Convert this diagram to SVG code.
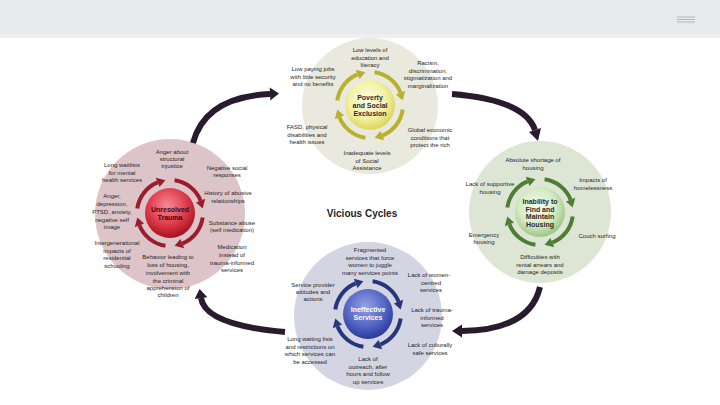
<svg xmlns="http://www.w3.org/2000/svg" xmlns:xlink="http://www.w3.org/1999/xlink" width="720" height="405" viewBox="0 0 720 405">
<style>
text{font-family:"Liberation Sans",Arial,sans-serif;font-size:6px;fill:#262626;text-anchor:middle}
.c{font-size:7px;font-weight:bold;fill:#2a2a2a}
.w{fill:#ffffff}
.big{stroke:#2a1a2e;stroke-width:6;fill:none;stroke-linecap:butt}
.head{fill:#2a1a2e}
</style>
<defs>
<g id="ring">
<path d="M4.59,-32.68 A33,33 0 0 1 30.60,-12.36" fill="none" stroke="currentColor" stroke-width="4"/>
<polygon points="25.96,-10.49 35.23,-14.23 32.68,-4.59" fill="currentColor"/>
<path d="M32.68,4.59 A33,33 0 0 1 12.36,30.60" fill="none" stroke="currentColor" stroke-width="4"/>
<polygon points="10.49,25.96 14.23,35.23 4.59,32.68" fill="currentColor"/>
<path d="M-4.59,32.68 A33,33 0 0 1 -30.60,12.36" fill="none" stroke="currentColor" stroke-width="4"/>
<polygon points="-25.96,10.49 -35.23,14.23 -32.68,4.59" fill="currentColor"/>
<path d="M-32.68,-4.59 A33,33 0 0 1 -12.36,-30.60" fill="none" stroke="currentColor" stroke-width="4"/>
<polygon points="-10.49,-25.96 -14.23,-35.23 -4.59,-32.68" fill="currentColor"/>
</g>
<radialGradient id="gY" cx="0.45" cy="0.4" r="0.6"><stop offset="0" stop-color="#fefee8"/><stop offset="0.6" stop-color="#f4f2a8"/><stop offset="1" stop-color="#dcd55a"/></radialGradient>
<radialGradient id="gG" cx="0.45" cy="0.4" r="0.6"><stop offset="0" stop-color="#f6fbef"/><stop offset="0.6" stop-color="#d6ebc6"/><stop offset="1" stop-color="#9cc784"/></radialGradient>
<radialGradient id="gB" cx="0.45" cy="0.35" r="0.65"><stop offset="0" stop-color="#95a2e6"/><stop offset="0.6" stop-color="#5566c4"/><stop offset="1" stop-color="#2c3a98"/></radialGradient>
<radialGradient id="gR" cx="0.45" cy="0.35" r="0.65"><stop offset="0" stop-color="#f58a94"/><stop offset="0.6" stop-color="#dd3a4a"/><stop offset="1" stop-color="#a8101e"/></radialGradient>
</defs>

<g id="header">
<rect x="0" y="0" width="720" height="34" fill="#e7e9ea"/>
<rect x="0" y="34" width="720" height="4" fill="#eeeff0"/>
<g stroke="#b4b8ba" stroke-width="1">
<line x1="677" y1="17" x2="695" y2="17"/>
<line x1="677" y1="19.5" x2="695" y2="19.5"/>
<line x1="677" y1="22" x2="695" y2="22"/>
</g>
</g>

<g id="cycle-poverty">
<circle cx="370" cy="106" r="68" fill="#e9e9de"/>
<use xlink:href="#ring" transform="translate(370,105)" color="#b7b12c"/>
<circle cx="370" cy="105" r="25" fill="url(#gY)"/>
<text class="c" x="370" y="99.5">Poverty</text>
<text class="c" x="370" y="107.5">and Social</text>
<text class="c" x="370" y="115.5">Exclusion</text>
<text x="370" y="52">Low levels of</text>
<text x="370" y="59.5">education and</text>
<text x="370" y="67">literacy</text>
<text x="313" y="71">Low paying jobs</text>
<text x="313" y="78.5">with little security</text>
<text x="313" y="86">and no benefits</text>
<text x="428" y="65">Racism,</text>
<text x="428" y="72.5">discrimination,</text>
<text x="428" y="80">stigmatization and</text>
<text x="428" y="87.5">marginalization</text>
<text x="307" y="129">FASD, physical</text>
<text x="307" y="136.5">disabilities and</text>
<text x="307" y="144">health issues</text>
<text x="430" y="132">Global economic</text>
<text x="430" y="139.5">conditions that</text>
<text x="430" y="147">protect the rich</text>
<text x="367" y="155">Inadequate levels</text>
<text x="367" y="162.5">of Social</text>
<text x="367" y="170">Assistance</text>
</g>

<g id="cycle-housing">
<circle cx="540" cy="212" r="71" fill="#dde6d5"/>
<use xlink:href="#ring" transform="translate(540,212)" color="#4e7e34"/>
<circle cx="540" cy="212" r="25" fill="url(#gG)"/>
<text class="c" x="540" y="203.5">Inability to</text>
<text class="c" x="540" y="211.5">Find and</text>
<text class="c" x="540" y="219">Maintain</text>
<text class="c" x="540" y="226.5">Housing</text>
<text x="533" y="162">Absolute shortage of</text>
<text x="533" y="169.5">housing</text>
<text x="593" y="182">Impacts of</text>
<text x="593" y="190">homelessness</text>
<text x="490" y="186">Lack of supportive</text>
<text x="490" y="194">housing</text>
<text x="484" y="236.5">Emergency</text>
<text x="484" y="244">housing</text>
<text x="597" y="237.5">Couch surfing</text>
<text x="540" y="259">Difficulties with</text>
<text x="540" y="266.5">rental arrears and</text>
<text x="540" y="274">damage deposits</text>
</g>

<g id="cycle-services">
<circle cx="368" cy="316" r="74" fill="#d4d5e3"/>
<use xlink:href="#ring" transform="translate(368,314)" color="#26367a"/>
<circle cx="368" cy="314" r="25" fill="url(#gB)"/>
<text class="c w" x="368" y="312">Ineffective</text>
<text class="c w" x="368" y="320">Services</text>
<text x="370" y="252">Fragmented</text>
<text x="370" y="259.5">services that force</text>
<text x="370" y="267">women to juggle</text>
<text x="370" y="274.5">many services points</text>
<text x="313" y="287">Service provider</text>
<text x="313" y="294">attitudes and</text>
<text x="313" y="301">actions</text>
<text x="429" y="277">Lack of women-</text>
<text x="431" y="284.5">centred</text>
<text x="431" y="292">services</text>
<text x="432" y="312">Lack of trauma-</text>
<text x="432" y="319.5">informed</text>
<text x="432" y="327">services</text>
<text x="430" y="347">Lack of culturally</text>
<text x="430" y="354.5">safe services</text>
<text x="310" y="341">Long waiting lists</text>
<text x="310" y="348.5">and restrictions on</text>
<text x="310" y="356">which services can</text>
<text x="310" y="363.5">be accessed</text>
<text x="368" y="361">Lack of</text>
<text x="368" y="368.5">outreach, after</text>
<text x="368" y="376">hours and follow</text>
<text x="368" y="383.5">up services</text>
</g>

<g id="cycle-trauma">
<circle cx="170" cy="214" r="75" fill="#dcc4c8"/>
<use xlink:href="#ring" transform="translate(170,213)" color="#9b1c2c"/>
<circle cx="170" cy="213" r="25" fill="url(#gR)"/>
<text class="c" x="170" y="211.5" fill="#3a0a10" style="fill:#3a0a10">Unresolved</text>
<text class="c" x="170" y="219.5" style="fill:#3a0a10">Trauma</text>
<text x="172" y="154">Anger about</text>
<text x="172" y="161">structural</text>
<text x="172" y="168">injustice</text>
<text x="122" y="167">Long waitlists</text>
<text x="122" y="174.5">for mental</text>
<text x="122" y="182">health services</text>
<text x="227" y="170">Negative social</text>
<text x="227" y="177">responses</text>
<text x="228" y="195">History of abusive</text>
<text x="228" y="203">relationships</text>
<text x="112" y="198">Anger,</text>
<text x="112" y="206">depression,</text>
<text x="112" y="214">PTSD, anxiety,</text>
<text x="112" y="221.5">negative self</text>
<text x="112" y="229">image</text>
<text x="232" y="225">Substance abuse</text>
<text x="232" y="232">(self medication)</text>
<text x="117" y="245">Intergenerational</text>
<text x="117" y="252.5">impacts of</text>
<text x="117" y="260">residential</text>
<text x="117" y="268">schooling</text>
<text x="232" y="249">Medication</text>
<text x="232" y="257">instead of</text>
<text x="232" y="265">trauma-informed</text>
<text x="232" y="272">services</text>
<text x="168" y="259">Behavior leading to</text>
<text x="168" y="267">loss of housing,</text>
<text x="168" y="275">involvement with</text>
<text x="168" y="282.5">the criminal</text>
<text x="168" y="290">apprehension of</text>
<text x="168" y="297">children</text>
</g>

<text x="362" y="216.5" style="font-size:10px;font-weight:bold;fill:#1e1e1e">Vicious Cycles</text>

<g id="connectors">
<path class="big" d="M193,143 Q205,97 270,94"/>
<polygon class="head" points="270.3,100.5 269.7,87.5 279,93.6"/>
<path class="big" d="M452,94 Q525,100 535,130"/>
<polygon class="head" points="529,132 541,128 538,141"/>
<path class="big" d="M540,287 Q530,330 462,331"/>
<polygon class="head" points="462,324.5 462,337.5 452,331"/>
<path class="big" d="M285,332 Q205,325 201,298"/>
<polygon class="head" points="207.4,297.2 194.6,299 199.6,289"/>
</g>
</svg>
